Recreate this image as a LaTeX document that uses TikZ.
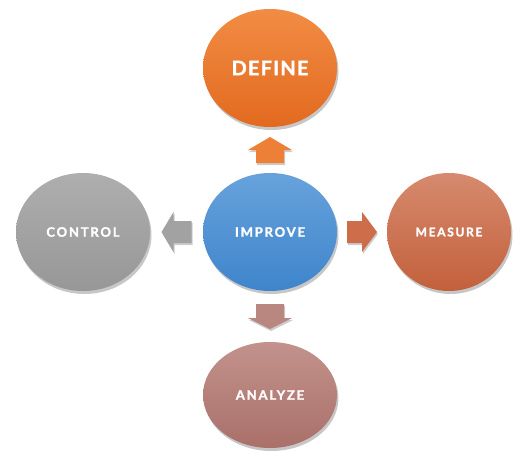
\documentclass[tikz,border=0pt]{standalone}
\usepackage{fontspec}
\setmainfont{Lato}
\newfontfamily\lblfont[LetterSpace=14,BoldFeatures={FakeBold=1.6}]{Lato}
\newfontfamily\deffont[LetterSpace=6,BoldFeatures={FakeBold=1.6}]{Lato}
\usetikzlibrary{shapes.geometric,shadows,calc}
\definecolor{defT}{HTML}{F28C44}
\definecolor{defB}{HTML}{E26A1F}
\definecolor{impT}{HTML}{67A2DC}
\definecolor{impB}{HTML}{3F85CB}
\definecolor{ctlT}{HTML}{AEAEAE}
\definecolor{ctlB}{HTML}{979797}
\definecolor{meaT}{HTML}{D68A6E}
\definecolor{meaB}{HTML}{C3603C}
\definecolor{anaT}{HTML}{C3928C}
\definecolor{anaB}{HTML}{AA706A}
\definecolor{arrUp}{HTML}{EE7F37}
\definecolor{arrLeft}{HTML}{A2A2A2}
\definecolor{arrRight}{HTML}{CD6D4A}
\definecolor{arrDown}{HTML}{B98680}
\tikzset{
  blob/.style={ellipse, inner sep=0pt, minimum width=134pt, minimum height=118pt,
    text=white, font=\lblfont\bfseries\fontsize{13}{15}\selectfont,
    drop shadow={shadow xshift=1.5pt, shadow yshift=-3pt, opacity=0.22, fill=black}},
  pics/barrow/.style args={#1/#2/#3/#4}{code={
    \path[fill, drop shadow={shadow xshift=1pt, shadow yshift=-2pt, opacity=0.2, fill=black}]
      (-#1/2,-#3) -- (#1/2-#2,-#3) -- (#1/2-#2,-#4) -- (#1/2,0)
      -- (#1/2-#2,#4) -- (#1/2-#2,#3) -- (-#1/2,#3) -- cycle;
  }}
}
\begin{document}
\begin{tikzpicture}[x=1pt,y=-1pt]
\useasboundingbox (0,0) rectangle (514,452);
\fill[white] (0,0) rectangle (514,452);

\node[blob, top color=defT, bottom color=defB, font=\deffont\bfseries\fontsize{20}{24}\selectfont] (define) at (270,68) {DEFINE};
\node[blob, top color=impT, bottom color=impB] (improve) at (270,232) {IMPROVE};
\node[blob, top color=ctlT, bottom color=ctlB] (control) at (83,232) {CONTROL};
\node[blob, top color=meaT, bottom color=meaB, minimum width=124pt, font=\lblfont\bfseries\fontsize{12}{14}\selectfont] (measure) at (449,232) {MEASURE};
\node[blob, top color=anaT, bottom color=anaB, minimum height=106pt] (analyze) at (270,395) {ANALYZE};

\pic[fill=arrUp, rotate=90] at ($(improve.north)!0.5!(define.south)$) {barrow=26/13/14/22};
\pic[fill=arrLeft, rotate=180] at ($(improve.west)!0.5!(control.east)$) {barrow=30/12/11/20};
\pic[fill=arrRight] at ($(improve.east)!0.5!(measure.west)$) {barrow=30/15/11/20};
\pic[fill=arrDown, rotate=-90] at ($(improve.south)!0.5!(analyze.north)$) {barrow=25/11/14/22};
\end{tikzpicture}
\end{document}
